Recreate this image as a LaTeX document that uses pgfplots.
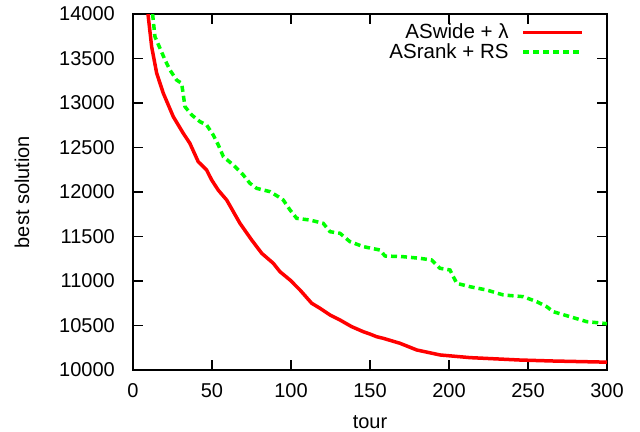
\documentclass[border=0pt]{standalone}
\usepackage{fontspec}
\setmainfont{Liberation Sans}
\usepackage{pgfplots}
\pgfplotsset{compat=1.18}
\begin{document}
\begin{tikzpicture}[font=\fontsize{20bp}{24bp}\selectfont]
\path[use as bounding box] (-133bp,-62bp) rectangle (507bp,370bp);
\begin{axis}[
  at={(0,0)}, anchor=south west,
  scale only axis, width=474bp, height=356bp,
  xmin=0, xmax=300, ymin=10000, ymax=14000,
  xtick={0,50,...,300}, ytick={10000,10500,...,14000},
  scaled y ticks=false, scaled x ticks=false,
  tick pos=both, tick align=inside,
  major tick length=10bp,
  axis line style={line width=1.2bp},
  every tick/.style={line width=1.2bp, black},
  /pgf/number format/assume math mode=true,
  /pgf/number format/1000 sep={},
  tick label style={font=\fontsize{20bp}{24bp}\selectfont, inner sep=0pt},
  x tick label style={anchor=base, yshift=-27bp},
  y tick label style={anchor=east, xshift=-18bp},
  xlabel={tour}, ylabel={best solution},
  label style={font=\fontsize{20bp}{24bp}\selectfont, inner sep=0pt},
  xlabel style={at={(axis description cs:0.5,-0.163)}, anchor=base},
  ylabel style={at={(axis description cs:-0.234,0.5)}, anchor=center},
  legend plot pos=right,
  legend cell align=right,
  legend image code/.code={\draw[#1] (0bp,0bp) -- (59bp,0bp);},
  legend style={draw=none, fill=none, at={(axis description cs:0.952,0.975)}, anchor=north east,
    font=\fontsize{20.5bp}{24bp}\selectfont, inner sep=0pt, row sep=1.5bp,
    /tikz/column sep=12bp,
    nodes={inner sep=1bp}},
]
\addplot[red, line width=3.5bp, line join=round] coordinates {
(9.5,14000) (11.8,13633) (15,13334) (19.2,13109) (25.5,12846) (31.8,12660)
(36,12547) (41.3,12340) (46.6,12247) (49.8,12135) (54,12020) (59.3,11910)
(67.7,11648) (75.1,11461) (81.5,11311) (88.8,11199) (93,11105) (99.4,11011)
(105.7,10899) (113.1,10750) (118.4,10693) (124.7,10618) (131,10562) (138.4,10487)
(145.8,10430) (150,10404) (154.2,10374) (158.4,10356) (169,10300) (179.6,10225)
(194.3,10169) (213.3,10139) (245,10112) (266,10101) (300,10088)
};
\addlegendentry{ASwide + λ}
\addplot[color={rgb,255:red,0;green,255;blue,0}, line width=3.5bp, dash pattern=on 6bp off 4bp] coordinates {
(12.4,14000) (13.9,13745) (17.1,13614) (20.3,13483) (23.4,13371) (27.6,13258)
(30.8,13221) (32.9,12958) (37.2,12865) (42.4,12790) (46.6,12753) (50.8,12640)
(54,12528) (57.2,12397) (63.5,12303) (69.8,12191) (74,12098) (78.3,12041)
(86.7,12004) (92,11947) (95.1,11910) (99.4,11798) (103.6,11704) (112,11685)
(120.4,11648) (124.7,11554) (131,11536) (137.3,11442) (145.8,11386) (156.3,11348)
(159.5,11281) (171.1,11273) (181.6,11255) (189,11236) (194.3,11143) (200.6,11124)
(204.9,10974) (213.3,10936) (223.8,10899) (234.4,10843) (247,10824) (255.5,10768)
(261.8,10712) (266,10655) (276.6,10599) (287.2,10543) (297.7,10525) (300,10520)
};
\addlegendentry{ASrank + RS}
\end{axis}
\end{tikzpicture}
\end{document}
